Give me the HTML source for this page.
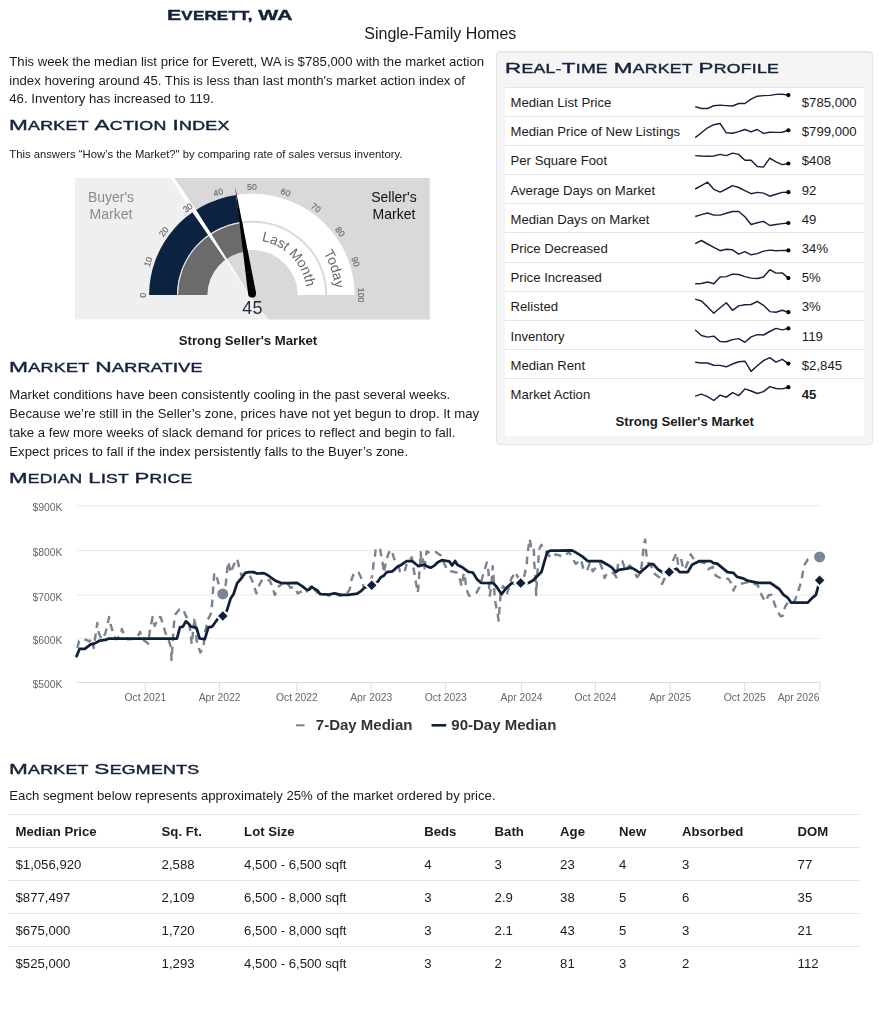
<!DOCTYPE html>
<html lang="en"><head><meta charset="utf-8"><title>Everett, WA</title>
<style>
html,body{margin:0;padding:0;background:#fff}
body{font-family:"Liberation Sans",sans-serif;color:#1b1b1b;font-size:13.16px}
#pg{position:relative;width:881px;height:1024px;overflow:hidden;opacity:.999}
.a{position:absolute;white-space:nowrap;line-height:20px;height:20px}
.hd{position:absolute;white-space:nowrap;line-height:20px;height:20px;color:#14233a;text-transform:uppercase;transform-origin:0 50%;letter-spacing:0.012em;word-spacing:0.5px;-webkit-text-stroke:0.4px #14233a}
.hd b{font-weight:inherit}
.p{position:absolute;line-height:18.8px;font-size:13.16px;white-space:nowrap}
.sm{font-size:11.28px}
.c{text-align:center}
.b{font-weight:700}
.ln{position:absolute;height:1px;background:#e4e4e4}
svg{position:absolute;overflow:visible}
svg text{font-family:"Liberation Sans",sans-serif}
</style></head>
<body><div id="pg">
<div class="a c" style="left:0.00px;top:24.00px;font-size:16.00px;width:880.60px;">Single-Family Homes</div>
<div class="a " style="left:9.30px;top:52.00px;font-size:13.16px;">This week the median list price for Everett, WA is $785,000 with the market action</div>
<div class="a " style="left:9.30px;top:71.00px;font-size:13.16px;">index hovering around 45. This is less than last month's market action index of</div>
<div class="a " style="left:9.30px;top:89.00px;font-size:13.16px;">46. Inventory has increased to 119.</div>
<div class="a " style="left:9.30px;top:144.00px;font-size:11.28px;">This answers “How’s the Market?&quot; by comparing rate of sales versus inventory.</div>
<div class="a b" style="left:178.80px;top:331.00px;font-size:13.16px;">Strong Seller's Market</div>
<div class="a " style="left:9.30px;top:385.00px;font-size:13.16px;">Market conditions have been consistently cooling in the past several weeks.</div>
<div class="a " style="left:9.30px;top:404.00px;font-size:13.16px;">Because we’re still in the Seller’s zone, prices have not yet begun to drop. It may</div>
<div class="a " style="left:9.30px;top:423.00px;font-size:13.16px;">take a few more weeks of slack demand for prices to reflect and begin to fall.</div>
<div class="a " style="left:9.30px;top:442.00px;font-size:13.16px;">Expect prices to fall if the index persistently falls to the Buyer’s zone.</div>
<div class="a " style="left:9.30px;top:786.00px;font-size:13.16px;">Each segment below represents approximately 25% of the market ordered by price.</div>
<svg style="left:75.20px;top:178.00px" width="354.70" height="141.40" viewBox="75.20 178.00 354.70 141.40">
<rect x="75.20" y="178.00" width="354.70" height="141.40" fill="#efefef"/>
<polygon points="172.78,178.00 429.90,178.00 429.90,319.40 268.90,319.40 249.70,295.10" fill="#d9d9d9"/>
<g transform="translate(0 295.10) scale(1 0.987) translate(0 -295.10)">
<path d="M149.30 295.10A102.80 102.80 0 0 1 354.90 295.10L326.50 295.10A74.40 74.40 0 0 0 177.70 295.10Z" fill="#fff"/>
<path d="M177.70 295.10A74.40 74.40 0 0 1 326.50 295.10L297.90 295.10A45.80 45.80 0 0 0 206.30 295.10Z" fill="#fff"/>
<path d="M177.70 295.10A74.40 74.40 0 0 1 326.50 295.10" fill="none" stroke="#d9d9d9" stroke-width="2"/>
<path d="M149.30 295.10A102.80 102.80 0 0 1 236.02 193.57L240.38 221.12A74.90 74.90 0 0 0 177.20 295.10Z" fill="#0b2340"/>
<path d="M178.20 295.10A73.90 73.90 0 0 1 242.84 221.78L246.52 250.95A44.50 44.50 0 0 0 207.60 295.10Z" fill="#6b6b6b"/>
<path d="M177.70 295.10A74.40 74.40 0 0 1 241.62 221.44" fill="none" stroke="#e8eaee" stroke-width="0.9"/>
</g>
<clipPath id="gc"><rect x="75.20" y="178.00" width="354.70" height="141.40"/></clipPath>
<polygon clip-path="url(#gc)" points="249.87,294.99 225.94,257.11 210.27,231.98 195.10,207.97 172.30,174.72 169.96,176.26 191.42,210.39 207.43,233.85 224.27,258.20 249.53,295.21" fill="#fff"/>
<text x="143.00" y="295.10" transform="rotate(-90.0 143.00 295.10)" text-anchor="middle" font-size="8.7" font-weight="400" fill="#6e6e6e" stroke="#6e6e6e" stroke-width="0.2" dy="3.1">0</text>
<text x="148.34" y="261.72" transform="rotate(-72.0 148.34 261.72)" text-anchor="middle" font-size="8.7" font-weight="400" fill="#6e6e6e" stroke="#6e6e6e" stroke-width="0.2" dy="3.1">10</text>
<text x="163.84" y="231.61" transform="rotate(-54.0 163.84 231.61)" text-anchor="middle" font-size="8.7" font-weight="400" fill="#6e6e6e" stroke="#6e6e6e" stroke-width="0.2" dy="3.1">20</text>
<text x="187.97" y="207.72" transform="rotate(-36.0 187.97 207.72)" text-anchor="middle" font-size="8.7" font-weight="400" fill="#6e6e6e" stroke="#6e6e6e" stroke-width="0.2" dy="3.1">30</text>
<text x="218.39" y="192.38" transform="rotate(-18.0 218.39 192.38)" text-anchor="middle" font-size="8.7" font-weight="400" fill="#6e6e6e" stroke="#6e6e6e" stroke-width="0.2" dy="3.1">40</text>
<text x="252.10" y="187.09" transform="rotate(0.0 252.10 187.09)" text-anchor="middle" font-size="8.7" font-weight="400" fill="#6e6e6e" stroke="#6e6e6e" stroke-width="0.2" dy="3.1">50</text>
<text x="285.81" y="192.38" transform="rotate(18.0 285.81 192.38)" text-anchor="middle" font-size="8.7" font-weight="400" fill="#6e6e6e" stroke="#6e6e6e" stroke-width="0.2" dy="3.1">60</text>
<text x="316.23" y="207.72" transform="rotate(36.0 316.23 207.72)" text-anchor="middle" font-size="8.7" font-weight="400" fill="#6e6e6e" stroke="#6e6e6e" stroke-width="0.2" dy="3.1">70</text>
<text x="340.36" y="231.61" transform="rotate(54.0 340.36 231.61)" text-anchor="middle" font-size="8.7" font-weight="400" fill="#6e6e6e" stroke="#6e6e6e" stroke-width="0.2" dy="3.1">80</text>
<text x="355.86" y="261.72" transform="rotate(72.0 355.86 261.72)" text-anchor="middle" font-size="8.7" font-weight="400" fill="#6e6e6e" stroke="#6e6e6e" stroke-width="0.2" dy="3.1">90</text>
<text x="361.20" y="295.10" transform="rotate(90.0 361.20 295.10)" text-anchor="middle" font-size="8.7" font-weight="400" fill="#6e6e6e" stroke="#6e6e6e" stroke-width="0.2" dy="3.1">100</text>
<defs><path id="pl" d="M252.10 240.10A55.00 55.00 0 0 1 307.10 295.10" fill="none"/><path id="pt" d="M252.10 211.90A83.20 83.20 0 0 1 335.30 295.10" fill="none"/></defs>
<text font-size="13.9" fill="#666"><textPath href="#pl" startOffset="9.60">Last Month</textPath></text>
<text font-size="14" fill="#666"><textPath href="#pt" startOffset="86.11">Today</textPath></text>
<polygon points="235.28,186.14 256.25,292.97 248.35,294.23" fill="#000"/>
<circle cx="252.30" cy="293.60" r="4.00" fill="#000"/>
<text x="252.6" y="313.7" text-anchor="middle" font-size="18" fill="#1c2a42">45</text>
<text x="111.2" y="201.6" text-anchor="middle" font-size="14" fill="#8a8a8a">Buyer's</text>
<text x="111.2" y="219.3" text-anchor="middle" font-size="14" fill="#8a8a8a">Market</text>
<text x="394.2" y="201.6" text-anchor="middle" font-size="14" fill="#111">Seller's</text>
<text x="394.2" y="219.3" text-anchor="middle" font-size="14" fill="#111">Market</text>
</svg>
<div style="position:absolute;box-sizing:border-box;left:496.2px;top:51.2px;width:376.6px;height:393.7px;background:#f5f5f5;border:1px solid #e3e3e3;border-radius:4px;box-shadow:inset 0 1px 1px rgba(0,0,0,.05)"></div>
<div style="position:absolute;left:505.00px;top:87.00px;width:359.40px;height:349.20px;background:#fff"></div>
<div class="ln" style="left:505.00px;top:86.50px;width:359.40px"></div>
<div class="a " style="left:510.50px;top:93.00px;font-size:13.16px;">Median List Price</div>
<div class="a " style="left:801.80px;top:93.00px;font-size:13.16px;">$785,000</div>
<div class="ln" style="left:505.00px;top:115.68px;width:359.40px"></div>
<div class="a " style="left:510.50px;top:122.00px;font-size:13.16px;">Median Price of New Listings</div>
<div class="a " style="left:801.80px;top:122.00px;font-size:13.16px;">$799,000</div>
<div class="ln" style="left:505.00px;top:144.86px;width:359.40px"></div>
<div class="a " style="left:510.50px;top:151.00px;font-size:13.16px;">Per Square Foot</div>
<div class="a " style="left:801.80px;top:151.00px;font-size:13.16px;">$408</div>
<div class="ln" style="left:505.00px;top:174.04px;width:359.40px"></div>
<div class="a " style="left:510.50px;top:181.00px;font-size:13.16px;">Average Days on Market</div>
<div class="a " style="left:801.80px;top:181.00px;font-size:13.16px;">92</div>
<div class="ln" style="left:505.00px;top:203.22px;width:359.40px"></div>
<div class="a " style="left:510.50px;top:210.00px;font-size:13.16px;">Median Days on Market</div>
<div class="a " style="left:801.80px;top:210.00px;font-size:13.16px;">49</div>
<div class="ln" style="left:505.00px;top:232.40px;width:359.40px"></div>
<div class="a " style="left:510.50px;top:239.00px;font-size:13.16px;">Price Decreased</div>
<div class="a " style="left:801.80px;top:239.00px;font-size:13.16px;">34%</div>
<div class="ln" style="left:505.00px;top:261.58px;width:359.40px"></div>
<div class="a " style="left:510.50px;top:268.00px;font-size:13.16px;">Price Increased</div>
<div class="a " style="left:801.80px;top:268.00px;font-size:13.16px;">5%</div>
<div class="ln" style="left:505.00px;top:290.76px;width:359.40px"></div>
<div class="a " style="left:510.50px;top:297.00px;font-size:13.16px;">Relisted</div>
<div class="a " style="left:801.80px;top:297.00px;font-size:13.16px;">3%</div>
<div class="ln" style="left:505.00px;top:319.94px;width:359.40px"></div>
<div class="a " style="left:510.50px;top:327.00px;font-size:13.16px;">Inventory</div>
<div class="a " style="left:801.80px;top:327.00px;font-size:13.16px;">119</div>
<div class="ln" style="left:505.00px;top:349.12px;width:359.40px"></div>
<div class="a " style="left:510.50px;top:356.00px;font-size:13.16px;">Median Rent</div>
<div class="a " style="left:801.80px;top:356.00px;font-size:13.16px;">$2,845</div>
<div class="ln" style="left:505.00px;top:378.30px;width:359.40px"></div>
<div class="a " style="left:510.50px;top:385.00px;font-size:13.16px;">Market Action</div>
<div class="a b" style="left:801.80px;top:385.00px;font-size:13.16px;">45</div>
<svg style="left:0;top:0" width="881" height="460" viewBox="0 0 881 460">
<path d="M695.2 106.6L701.4 108.5L707.6 108.5L713.8 105.7L720.1 105.1L726.3 105.6L732.5 106.0L738.7 103.5L744.9 103.5L751.1 99.1L757.3 96.2L763.5 95.6L769.8 95.4L776.0 94.4L782.2 94.2L788.4 95.1" fill="none" stroke="#14233a" stroke-width="1.45" stroke-linejoin="round" stroke-linecap="butt"/>
<circle cx="788.4" cy="95.1" r="2.1" fill="#000"/>
<path d="M695.2 137.6L701.4 132.8L707.6 127.8L713.8 124.7L720.1 123.5L726.3 132.8L732.5 133.2L738.7 131.6L744.9 129.5L751.1 131.9L757.3 129.5L763.5 133.4L769.8 132.2L776.0 132.4L782.2 132.2L788.4 130.3" fill="none" stroke="#14233a" stroke-width="1.45" stroke-linejoin="round" stroke-linecap="butt"/>
<circle cx="788.4" cy="130.3" r="2.1" fill="#000"/>
<path d="M695.2 155.6L701.4 156.0L707.6 156.2L713.8 156.0L720.1 154.4L726.3 155.6L732.5 153.1L738.7 154.4L744.9 160.2L751.1 160.2L757.3 166.5L763.5 167.1L769.8 158.1L776.0 161.9L782.2 164.6L788.4 163.5" fill="none" stroke="#14233a" stroke-width="1.45" stroke-linejoin="round" stroke-linecap="butt"/>
<circle cx="788.4" cy="163.5" r="2.1" fill="#000"/>
<path d="M695.2 189.0L701.4 185.6L707.6 182.2L713.8 189.3L720.1 192.1L726.3 189.0L732.5 185.6L738.7 187.5L744.9 190.6L751.1 193.7L757.3 192.4L763.5 193.1L769.8 196.2L776.0 194.3L782.2 192.4L788.4 192.2" fill="none" stroke="#14233a" stroke-width="1.45" stroke-linejoin="round" stroke-linecap="butt"/>
<circle cx="788.4" cy="192.2" r="2.1" fill="#000"/>
<path d="M695.2 216.5L701.4 214.6L707.6 213.0L713.8 215.1L720.1 215.1L726.3 213.2L732.5 211.5L738.7 211.5L744.9 216.7L751.1 224.5L757.3 222.7L763.5 221.4L769.8 225.5L776.0 224.5L782.2 223.6L788.4 223.0" fill="none" stroke="#14233a" stroke-width="1.45" stroke-linejoin="round" stroke-linecap="butt"/>
<circle cx="788.4" cy="223.0" r="2.1" fill="#000"/>
<path d="M695.2 243.6L701.4 240.5L707.6 244.0L713.8 247.3L720.1 250.7L726.3 249.2L732.5 249.8L738.7 254.2L744.9 251.7L751.1 254.8L757.3 253.6L763.5 251.1L769.8 250.1L776.0 250.8L782.2 250.4L788.4 250.4" fill="none" stroke="#14233a" stroke-width="1.45" stroke-linejoin="round" stroke-linecap="butt"/>
<circle cx="788.4" cy="250.4" r="2.1" fill="#000"/>
<path d="M695.2 283.8L701.4 283.5L707.6 282.0L713.8 283.8L720.1 277.0L726.3 276.6L732.5 274.1L738.7 274.5L744.9 276.6L751.1 278.1L757.3 278.5L763.5 277.0L769.8 269.7L776.0 273.1L782.2 272.9L788.4 278.1" fill="none" stroke="#14233a" stroke-width="1.45" stroke-linejoin="round" stroke-linecap="butt"/>
<circle cx="788.4" cy="278.1" r="2.1" fill="#000"/>
<path d="M695.2 299.1L701.4 301.0L707.6 306.9L713.8 313.2L720.1 307.8L726.3 302.8L732.5 310.3L738.7 305.9L744.9 304.7L751.1 304.5L757.3 301.3L763.5 305.3L769.8 311.6L776.0 312.2L782.2 310.3L788.4 312.2" fill="none" stroke="#14233a" stroke-width="1.45" stroke-linejoin="round" stroke-linecap="butt"/>
<circle cx="788.4" cy="312.2" r="2.1" fill="#000"/>
<path d="M695.2 330.0L701.4 335.5L707.6 337.1L713.8 336.1L720.1 341.5L726.3 341.8L732.5 339.6L738.7 338.6L744.9 342.3L751.1 336.9L757.3 334.6L763.5 335.0L769.8 331.5L776.0 328.4L782.2 329.9L788.4 328.4" fill="none" stroke="#14233a" stroke-width="1.45" stroke-linejoin="round" stroke-linecap="butt"/>
<circle cx="788.4" cy="328.4" r="2.1" fill="#000"/>
<path d="M695.2 362.3L701.4 363.0L707.6 363.0L713.8 365.2L720.1 365.4L726.3 366.8L732.5 364.0L738.7 361.7L744.9 361.2L751.1 371.4L757.3 365.8L763.5 360.6L769.8 357.7L776.0 362.1L782.2 359.3L788.4 363.6" fill="none" stroke="#14233a" stroke-width="1.45" stroke-linejoin="round" stroke-linecap="butt"/>
<circle cx="788.4" cy="363.6" r="2.1" fill="#000"/>
<path d="M695.2 396.1L701.4 394.1L707.6 396.6L713.8 400.5L720.1 395.1L726.3 397.2L732.5 392.6L738.7 395.7L744.9 388.9L751.1 391.0L757.3 393.5L763.5 391.6L769.8 386.6L776.0 388.5L782.2 388.9L788.4 387.2" fill="none" stroke="#14233a" stroke-width="1.45" stroke-linejoin="round" stroke-linecap="butt"/>
<circle cx="788.4" cy="387.2" r="2.1" fill="#000"/>
</svg>
<div class="a b c" style="left:505.00px;top:412.00px;font-size:13.16px;width:359.40px;">Strong Seller's Market</div>
<svg style="left:0;top:490px" width="881" height="250" viewBox="0 490 881 250">
<path d="M76.9 505.70H820.2" stroke="#e9e9e9" stroke-width="1" fill="none"/>
<path d="M76.9 550.50H820.2" stroke="#e9e9e9" stroke-width="1" fill="none"/>
<path d="M76.9 595.00H820.2" stroke="#e9e9e9" stroke-width="1" fill="none"/>
<path d="M76.9 638.60H820.2" stroke="#e9e9e9" stroke-width="1" fill="none"/>
<path d="M76.9 682.50H820.2" stroke="#d9dde7" stroke-width="1" fill="none"/>
<text x="62.4" y="511.30" text-anchor="end" font-size="10.34" fill="#666">$900K</text>
<text x="62.4" y="556.10" text-anchor="end" font-size="10.34" fill="#666">$800K</text>
<text x="62.4" y="600.60" text-anchor="end" font-size="10.34" fill="#666">$700K</text>
<text x="62.4" y="644.20" text-anchor="end" font-size="10.34" fill="#666">$600K</text>
<text x="62.4" y="688.00" text-anchor="end" font-size="10.34" fill="#666">$500K</text>
<path d="M145.3 682.5V691.9" stroke="#d9dde7" stroke-width="1" fill="none"/>
<text x="145.4" y="700.6" text-anchor="middle" font-size="10.34" fill="#666">Oct 2021</text>
<path d="M219.5 682.5V691.9" stroke="#d9dde7" stroke-width="1" fill="none"/>
<text x="219.6" y="700.6" text-anchor="middle" font-size="10.34" fill="#666">Apr 2022</text>
<path d="M296.8 682.5V691.9" stroke="#d9dde7" stroke-width="1" fill="none"/>
<text x="296.9" y="700.6" text-anchor="middle" font-size="10.34" fill="#666">Oct 2022</text>
<path d="M371.1 682.5V691.9" stroke="#d9dde7" stroke-width="1" fill="none"/>
<text x="371.2" y="700.6" text-anchor="middle" font-size="10.34" fill="#666">Apr 2023</text>
<path d="M445.7 682.5V691.9" stroke="#d9dde7" stroke-width="1" fill="none"/>
<text x="445.8" y="700.6" text-anchor="middle" font-size="10.34" fill="#666">Oct 2023</text>
<path d="M521.4 682.5V691.9" stroke="#d9dde7" stroke-width="1" fill="none"/>
<text x="521.5" y="700.6" text-anchor="middle" font-size="10.34" fill="#666">Apr 2024</text>
<path d="M595.4 682.5V691.9" stroke="#d9dde7" stroke-width="1" fill="none"/>
<text x="595.5" y="700.6" text-anchor="middle" font-size="10.34" fill="#666">Oct 2024</text>
<path d="M670.0 682.5V691.9" stroke="#d9dde7" stroke-width="1" fill="none"/>
<text x="670.1" y="700.6" text-anchor="middle" font-size="10.34" fill="#666">Apr 2025</text>
<path d="M744.7 682.5V691.9" stroke="#d9dde7" stroke-width="1" fill="none"/>
<text x="744.8" y="700.6" text-anchor="middle" font-size="10.34" fill="#666">Oct 2025</text>
<path d="M819.9 682.5V691.9" stroke="#d9dde7" stroke-width="1" fill="none"/>
<text x="819.6" y="700.6" text-anchor="end" font-size="10.34" fill="#666">Apr 2026</text>
<path d="M77.4 648.0L79.1 640.7L83.3 639.2L86.2 639.9L89.2 641.4L92.1 638.5L93.6 648.0L95.8 633.3L97.3 623.0L98.8 633.3L101.7 639.2L105.4 633.3L107.6 624.4L109.1 617.1L110.6 624.4L112.8 631.8L115.7 639.2L120.2 636.2L121.9 628.9L124.6 636.2L127.5 639.2L133.4 638.9L137.9 636.2L140.1 631.8L142.3 639.2L148.2 643.6L149.7 631.8L151.2 624.4L152.6 617.1L154.8 625.9L158.5 617.1L160.7 617.1L163.0 624.4L165.2 631.8L167.4 638.5L168.9 640.7L171.1 648.0L171.5 659.9L172.6 645.1L173.3 633.3L174.0 623.0L175.5 614.1L179.2 609.7L182.9 608.9L185.1 614.1L188.0 620.0L190.3 630.3L191.7 644.4L193.2 630.3L194.7 617.8L196.2 633.3L196.6 640.7L200.3 652.5L203.3 648.8L204.8 633.3L207.7 620.0L210.7 614.1L212.1 603.8L214.3 572.8L217.2 578.7L220.0 589.0L222.8 593.9L225.7 584.6L228.1 561.7L231.0 572.8L233.5 565.4L237.2 558.8L239.4 568.4L241.6 575.7L245.3 573.5L249.0 574.3L252.0 580.2L256.4 593.4L259.4 584.6L262.3 579.4L269.7 580.2L272.6 587.5L274.8 594.9L278.5 586.8L285.9 580.9L290.3 587.5L294.8 587.5L297.7 593.4L302.1 591.2L305.1 593.4L308.0 590.5L311.7 584.6L315.9 591.2L320.3 594.9L324.8 594.2L329.2 595.7L334.3 592.7L339.5 595.7L345.4 594.9L349.1 590.5L349.8 589.0L351.3 580.2L354.3 572.1L358.7 572.8L360.9 577.2L363.1 584.6L363.9 587.5L369.0 586.8L372.7 574.3L373.4 564.7L374.9 556.6L375.7 548.4L377.9 547.7L380.1 549.2L381.6 557.3L383.0 565.4L383.8 572.8L386.0 561.7L388.2 554.3L390.4 549.9L391.9 550.7L394.1 558.8L397.8 563.9L400.0 571.3L404.4 572.8L406.7 563.9L411.8 557.3L413.3 566.9L414.8 575.7L416.2 583.9L417.7 592.7L418.5 586.1L419.2 574.3L419.9 568.4L420.7 552.1L421.4 563.9L422.9 559.5L424.4 568.4L426.6 551.4L431.0 553.6L435.9 552.1L441.1 555.8L444.0 563.2L447.7 570.6L456.6 572.5L459.5 578.0L461.7 586.1L463.9 572.8L465.4 580.2L466.2 589.0L469.1 595.7L472.8 594.9L476.5 592.7L480.2 586.1L482.4 577.2L484.6 569.8L486.8 562.5L488.3 570.6L489.0 578.7L489.0 586.8L489.8 595.7L491.2 586.1L492.0 575.7L492.7 566.2L493.4 574.3L494.2 589.0L494.9 599.4L496.4 608.2L497.9 615.6L498.6 620.7L499.4 609.7L500.1 600.8L500.8 592.0L503.0 586.1L505.3 589.0L506.7 594.9L509.7 584.6L511.2 578.7L515.6 572.1L517.1 575.7L520.7 580.9L524.4 575.7L526.7 563.9L527.4 555.1L529.6 538.9L531.1 546.2L533.3 544.8L534.0 552.1L534.0 561.0L534.8 569.1L535.5 578.7L536.2 594.9L537.0 578.7L537.7 569.1L538.5 558.8L539.2 549.2L541.4 544.8L543.6 549.2L546.6 552.1L551.0 558.0L555.9 554.3L563.3 556.6L569.2 552.1L572.1 558.0L575.8 563.9L581.0 559.5L583.2 568.4L586.9 571.3L589.8 563.2L592.8 571.3L597.2 566.2L600.2 563.2L603.1 571.3L604.6 578.0L606.8 573.5L613.4 572.8L616.4 577.2L617.9 565.4L619.4 561.0L622.3 561.0L625.3 569.8L629.7 565.4L634.1 571.3L637.1 577.2L640.7 572.8L642.2 561.0L643.0 553.6L643.7 544.8L645.2 539.6L645.9 549.2L646.7 557.3L648.1 562.5L651.8 566.9L653.3 572.8L659.2 577.2L662.1 583.9L664.4 578.7L668.0 571.3L672.5 561.7L676.6 552.9L678.1 563.9L681.1 558.8L682.5 565.4L684.8 569.8L687.7 562.5L690.7 554.3L695.1 561.0L699.5 561.7L705.4 563.2L708.4 569.1L712.8 566.9L715.7 575.7L721.6 578.7L728.3 578.7L731.2 583.1L733.4 590.5L736.4 584.6L743.8 583.1L749.7 581.6L757.8 585.3L761.5 594.9L765.2 601.6L768.9 594.9L771.8 594.9L774.0 602.3L777.0 610.4L780.7 616.3L782.9 615.6L785.1 606.7L788.0 602.3L791.0 602.0L793.8 602.3L795.3 599.4L797.5 593.4L801.2 581.6L804.1 565.4L807.8 559.5L811.5 557.3L819.6 556.9" fill="none" stroke="#7d848e" stroke-width="2.45" stroke-dasharray="7.5 5.6" stroke-linejoin="round"/>
<path d="M76.6 656.2L79.6 648.8L84.8 648.8L90.7 644.4L94.3 643.6L99.5 640.7L105.4 639.9L109.1 638.5L177.0 638.5L179.9 627.4L182.9 626.7L185.8 621.5L188.0 623.0L191.0 626.7L196.2 627.7L196.6 628.1L199.6 638.5L204.8 639.2L208.4 627.4L212.1 626.7L218.0 618.5L222.8 616.0L226.9 610.4L230.6 598.6L233.5 594.2L237.2 583.1L241.6 578.0L245.3 572.8L249.0 572.1L253.4 572.1L257.1 573.5L263.8 573.1L267.5 575.0L275.6 580.9L280.7 582.8L287.4 583.1L297.0 582.8L302.1 586.1L306.6 589.8L309.5 589.5L311.7 586.8L314.7 589.0L317.4 590.5L320.3 594.2L329.2 594.5L334.3 593.4L341.0 594.9L348.4 594.9L357.2 593.7L360.9 591.2L364.6 587.5L371.7 585.3L377.9 581.6L380.8 577.2L383.8 575.7L386.7 572.1L392.6 571.3L397.1 566.9L401.5 564.7L406.7 561.0L411.8 561.0L414.8 563.2L418.5 566.2L424.4 564.7L428.0 566.9L431.0 567.6L434.7 565.4L437.4 562.5L441.8 560.2L449.2 561.3L452.1 565.4L455.1 561.0L457.3 564.7L461.7 566.9L468.4 571.8L472.8 572.5L477.2 579.4L480.9 582.8L493.4 583.1L497.1 587.5L501.6 594.2L506.7 587.5L511.9 583.1L520.7 583.1L528.9 582.8L533.3 580.2L536.2 577.2L541.4 572.1L544.4 561.7L547.3 552.1L550.3 550.7L555.9 550.7L572.1 550.4L576.6 552.9L582.5 556.6L587.6 561.0L600.9 561.0L607.5 564.7L612.0 567.6L615.7 572.1L618.6 569.8L626.7 568.7L631.2 567.6L634.1 569.1L640.0 572.8L643.0 569.8L645.9 567.6L649.6 564.2L653.3 564.2L657.7 569.1L662.1 572.1L669.2 572.1L676.6 568.7L679.6 572.1L687.7 572.1L692.1 564.7L699.5 561.0L710.6 561.0L713.5 563.2L717.2 563.6L727.5 572.1L733.4 572.8L737.1 576.9L743.8 578.7L748.2 580.9L758.5 582.8L770.3 582.8L779.2 589.0L783.6 594.9L788.0 597.9L791.0 602.6L799.7 602.6L807.8 602.6L811.5 598.6L815.9 594.9L818.1 586.8L819.6 580.2" fill="none" stroke="#0f2138" stroke-width="2.75" stroke-linejoin="round" stroke-linecap="round"/>
<path d="M222.8 609.8l6.2 6.2l-6.2 6.2l-6.2 -6.2z" fill="#0f2138" stroke="#fff" stroke-width="2"/>
<path d="M371.7 579.1l6.2 6.2l-6.2 6.2l-6.2 -6.2z" fill="#0f2138" stroke="#fff" stroke-width="2"/>
<path d="M520.7 576.9l6.2 6.2l-6.2 6.2l-6.2 -6.2z" fill="#0f2138" stroke="#fff" stroke-width="2"/>
<path d="M669.2 565.9l6.2 6.2l-6.2 6.2l-6.2 -6.2z" fill="#0f2138" stroke="#fff" stroke-width="2"/>
<path d="M819.6 574.0l6.2 6.2l-6.2 6.2l-6.2 -6.2z" fill="#0f2138" stroke="#fff" stroke-width="2"/>
<circle cx="222.8" cy="593.9" r="6.2" fill="#7b8594" stroke="#fff" stroke-width="1.4"/>
<circle cx="819.6" cy="556.9" r="6.2" fill="#7b8594" stroke="#fff" stroke-width="1.4"/>
<path d="M296 725.3H304.5" stroke="#7b8594" stroke-width="2.1" fill="none"/>
<text x="315.8" y="729.9" font-size="15" font-weight="700" fill="#333">7-Day Median</text>
<path d="M431.5 725.3H446.2" stroke="#0f2138" stroke-width="2.6" fill="none"/>
<text x="451.3" y="729.9" font-size="15" font-weight="700" fill="#333">90-Day Median</text>
</svg>
<div class="ln" style="left:8.10px;top:814.20px;width:851.60px"></div>
<div class="a b" style="left:15.50px;top:822.00px;font-size:13.16px;">Median Price</div>
<div class="a b" style="left:161.60px;top:822.00px;font-size:13.16px;">Sq. Ft.</div>
<div class="a b" style="left:244.10px;top:822.00px;font-size:13.16px;">Lot Size</div>
<div class="a b" style="left:424.20px;top:822.00px;font-size:13.16px;">Beds</div>
<div class="a b" style="left:494.60px;top:822.00px;font-size:13.16px;">Bath</div>
<div class="a b" style="left:560.10px;top:822.00px;font-size:13.16px;">Age</div>
<div class="a b" style="left:619.10px;top:822.00px;font-size:13.16px;">New</div>
<div class="a b" style="left:681.90px;top:822.00px;font-size:13.16px;">Absorbed</div>
<div class="a b" style="left:797.60px;top:822.00px;font-size:13.16px;">DOM</div>
<div class="ln" style="left:8.10px;top:847.20px;width:851.60px"></div>
<div class="a " style="left:15.50px;top:855.00px;font-size:13.16px;">$1,056,920</div>
<div class="a " style="left:161.60px;top:855.00px;font-size:13.16px;">2,588</div>
<div class="a " style="left:244.10px;top:855.00px;font-size:13.16px;">4,500 - 6,500 sqft</div>
<div class="a " style="left:424.20px;top:855.00px;font-size:13.16px;">4</div>
<div class="a " style="left:494.60px;top:855.00px;font-size:13.16px;">3</div>
<div class="a " style="left:560.10px;top:855.00px;font-size:13.16px;">23</div>
<div class="a " style="left:619.10px;top:855.00px;font-size:13.16px;">4</div>
<div class="a " style="left:681.90px;top:855.00px;font-size:13.16px;">3</div>
<div class="a " style="left:797.60px;top:855.00px;font-size:13.16px;">77</div>
<div class="ln" style="left:8.10px;top:880.20px;width:851.60px"></div>
<div class="a " style="left:15.50px;top:888.00px;font-size:13.16px;">$877,497</div>
<div class="a " style="left:161.60px;top:888.00px;font-size:13.16px;">2,109</div>
<div class="a " style="left:244.10px;top:888.00px;font-size:13.16px;">6,500 - 8,000 sqft</div>
<div class="a " style="left:424.20px;top:888.00px;font-size:13.16px;">3</div>
<div class="a " style="left:494.60px;top:888.00px;font-size:13.16px;">2.9</div>
<div class="a " style="left:560.10px;top:888.00px;font-size:13.16px;">38</div>
<div class="a " style="left:619.10px;top:888.00px;font-size:13.16px;">5</div>
<div class="a " style="left:681.90px;top:888.00px;font-size:13.16px;">6</div>
<div class="a " style="left:797.60px;top:888.00px;font-size:13.16px;">35</div>
<div class="ln" style="left:8.10px;top:913.20px;width:851.60px"></div>
<div class="a " style="left:15.50px;top:921.00px;font-size:13.16px;">$675,000</div>
<div class="a " style="left:161.60px;top:921.00px;font-size:13.16px;">1,720</div>
<div class="a " style="left:244.10px;top:921.00px;font-size:13.16px;">6,500 - 8,000 sqft</div>
<div class="a " style="left:424.20px;top:921.00px;font-size:13.16px;">3</div>
<div class="a " style="left:494.60px;top:921.00px;font-size:13.16px;">2.1</div>
<div class="a " style="left:560.10px;top:921.00px;font-size:13.16px;">43</div>
<div class="a " style="left:619.10px;top:921.00px;font-size:13.16px;">5</div>
<div class="a " style="left:681.90px;top:921.00px;font-size:13.16px;">3</div>
<div class="a " style="left:797.60px;top:921.00px;font-size:13.16px;">21</div>
<div class="ln" style="left:8.10px;top:946.20px;width:851.60px"></div>
<div class="a " style="left:15.50px;top:954.00px;font-size:13.16px;">$525,000</div>
<div class="a " style="left:161.60px;top:954.00px;font-size:13.16px;">1,293</div>
<div class="a " style="left:244.10px;top:954.00px;font-size:13.16px;">4,500 - 6,500 sqft</div>
<div class="a " style="left:424.20px;top:954.00px;font-size:13.16px;">3</div>
<div class="a " style="left:494.60px;top:954.00px;font-size:13.16px;">2</div>
<div class="a " style="left:560.10px;top:954.00px;font-size:13.16px;">81</div>
<div class="a " style="left:619.10px;top:954.00px;font-size:13.16px;">3</div>
<div class="a " style="left:681.90px;top:954.00px;font-size:13.16px;">2</div>
<div class="a " style="left:797.60px;top:954.00px;font-size:13.16px;">112</div>
<div class="hd" style="left:167.30px;top:5.00px;font-size:15.40px;font-weight:700;transform:scaleX(1.3738)"><span style="font-size:12.30px"><b style="font-size:15.40px">E</b>verett, <b style="font-size:15.40px">W</b><b style="font-size:15.40px">A</b></span></div>
<div class="hd" style="left:9.00px;top:115.00px;font-size:15.10px;font-weight:400;transform:scaleX(1.4968)"><span style="font-size:11.90px"><b style="font-size:15.10px">M</b>arket <b style="font-size:15.10px">A</b>ction <b style="font-size:15.10px">I</b>ndex</span></div>
<div class="hd" style="left:9.00px;top:357.00px;font-size:15.10px;font-weight:400;transform:scaleX(1.5114)"><span style="font-size:11.90px"><b style="font-size:15.10px">M</b>arket <b style="font-size:15.10px">N</b>arrative</span></div>
<div class="hd" style="left:9.00px;top:468.00px;font-size:15.10px;font-weight:400;transform:scaleX(1.4699)"><span style="font-size:11.90px"><b style="font-size:15.10px">M</b>edian <b style="font-size:15.10px">L</b>ist <b style="font-size:15.10px">P</b>rice</span></div>
<div class="hd" style="left:9.20px;top:759.00px;font-size:15.10px;font-weight:400;transform:scaleX(1.4944)"><span style="font-size:11.90px"><b style="font-size:15.10px">M</b>arket <b style="font-size:15.10px">S</b>egments</span></div>
<div class="hd" style="left:505.40px;top:58.00px;font-size:15.10px;font-weight:400;transform:scaleX(1.4834)"><span style="font-size:11.90px"><b style="font-size:15.10px">R</b>eal-<b style="font-size:15.10px">T</b>ime <b style="font-size:15.10px">M</b>arket <b style="font-size:15.10px">P</b>rofile</span></div>
</div></body></html>
